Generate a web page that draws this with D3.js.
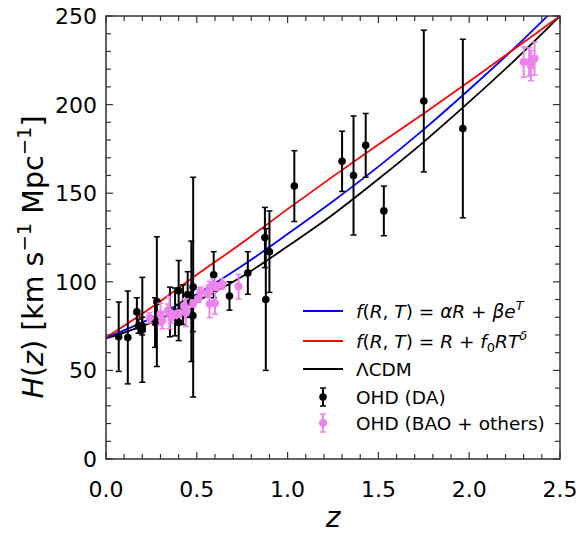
<!DOCTYPE html>
<html>
<head>
<meta charset="utf-8">
<script src="https://cdn.jsdelivr.net/npm/d3@7"></script>
<style>
  html, body { margin: 0; padding: 0; background: #fff; }
  svg { display: block; font-family: "DejaVu Sans", sans-serif; }
</style>
</head>
<body>
<svg id="chart" width="578" height="535"></svg>
<script>
// ---- data ----
const xTicks = [0.0, 0.5, 1.0, 1.5, 2.0, 2.5];
const yTicks = [0, 50, 100, 150, 200, 250];

// model curves
const zModel = [0, 0.25, 0.5, 0.75, 1.0, 1.25, 1.5, 1.75, 2.0, 2.25, 2.5];
const hBlue  = [68.3, 79.5, 93, 109, 127, 145.5, 165, 186, 208.5, 232, 257];
const hRed   = [68.5, 85.5, 104, 122, 141, 159.5, 177.5, 195, 213, 231.5, 250];
const hLcdm  = [68, 77, 89, 103, 120, 138, 158, 179, 201.5, 225, 250];

// OHD (DA)
const zDA = [0.07, 0.12, 0.17, 0.179, 0.199, 0.2, 0.27, 0.28, 0.352, 0.3802, 0.4, 0.4004, 0.4247, 0.4497, 0.47, 0.4783, 0.48, 0.593, 0.68, 0.781, 0.875, 0.88, 0.9, 1.037, 1.3, 1.363, 1.43, 1.53, 1.75, 1.965];
const hDA = [69, 68.6, 83, 75, 75, 72.9, 77, 88.8, 83, 83, 95, 77, 87.1, 92.8, 89, 80.9, 97, 104, 92, 105, 125, 90, 117, 154, 168, 160, 177, 140, 202, 186.5];
const eDA = [19.6, 26.2, 8, 4, 5, 29.6, 14, 36.6, 14, 13.5, 17, 10.2, 11.2, 12.9, 34, 9, 62, 13, 8, 12, 17, 40, 23, 20, 17, 33.6, 18, 14, 40, 50.4];

// OHD (BAO + others)
const zBAO = [0.24, 0.30, 0.31, 0.34, 0.35, 0.36, 0.38, 0.40, 0.43, 0.44, 0.44, 0.48, 0.51, 0.52, 0.56, 0.57, 0.57, 0.59, 0.60, 0.61, 0.64, 0.73, 2.30, 2.33, 2.34, 2.36];
const hBAO = [79.69, 81.7, 78.17, 83.8, 82.7, 79.93, 81.5, 82.04, 86.45, 82.6, 84.81, 87.79, 90.4, 94.35, 93.34, 87.6, 96.8, 98.48, 87.9, 97.3, 98.82, 97.3, 224, 224, 222, 226];
const eBAO = [2.99, 6.22, 4.74, 3.66, 9.1, 3.39, 1.9, 2.03, 3.97, 7.8, 1.83, 2.03, 1.9, 2.64, 2.3, 7.8, 3.4, 3.18, 6.1, 2.1, 2.98, 7.0, 8.6, 8, 8.5, 9.3];

// ---- layout ----
const L = 106, T = 16, W = 454, H = 443;
const svg = d3.select("#chart");
const x = d3.scaleLinear().domain([0, 2.5]).range([L, L + W]);
const y = d3.scaleLinear().domain([0, 250]).range([T + H, T]);

svg.append("defs").append("clipPath").attr("id", "clip")
  .append("rect").attr("x", L).attr("y", T).attr("width", W).attr("height", H);

// ---- curves ----
const line = d3.line().x(d => x(d[0])).y(d => y(d[1])).curve(d3.curveMonotoneX);
const curves = [
  { h: hLcdm, c: "#000000" },
  { h: hBlue, c: "#0000ff" },
  { h: hRed,  c: "#ff0000" }
];
const cg = svg.append("g").attr("clip-path", "url(#clip)");
curves.forEach(cv => {
  cg.append("path").datum(zModel.map((z, i) => [z, cv.h[i]]))
    .attr("d", line).attr("fill", "none").attr("stroke", cv.c).attr("stroke-width", 1.8);
});

// ---- error bars ----
function errorbars(zs, hs, es, color, r) {
  const g = svg.append("g").attr("clip-path", "url(#clip)");
  const data = zs.map((z, i) => ({ z, h: hs[i], e: es[i] }));
  const cap = 3;
  g.selectAll("line.v").data(data).join("line")
    .attr("x1", d => x(d.z)).attr("x2", d => x(d.z))
    .attr("y1", d => y(d.h - d.e)).attr("y2", d => y(d.h + d.e))
    .attr("stroke", color).attr("stroke-width", 2);
  [-1, 1].forEach(s => {
    g.selectAll(null).data(data).join("line")
      .attr("x1", d => x(d.z) - cap).attr("x2", d => x(d.z) + cap)
      .attr("y1", d => y(d.h + s * d.e)).attr("y2", d => y(d.h + s * d.e))
      .attr("stroke", color).attr("stroke-width", 1.5);
  });
  g.selectAll("circle").data(data).join("circle")
    .attr("cx", d => x(d.z)).attr("cy", d => y(d.h)).attr("r", r).attr("fill", color);
}
errorbars(zDA, hDA, eDA, "#000000", 3.8);
errorbars(zBAO, hBAO, eBAO, "#ee82ee", 4);

// ---- axes frame & ticks ----
const frameColor = "#333";
svg.append("rect").attr("x", L).attr("y", T).attr("width", W).attr("height", H)
  .attr("fill", "none").attr("stroke", frameColor).attr("stroke-width", 1.5);

const xMinor = d3.range(0, 26).map(i => i / 10);
const yMinor = d3.range(0, 26).map(i => i * 10);
const tk = svg.append("g").attr("stroke", frameColor).attr("stroke-width", 1.2);
xMinor.forEach(v => {
  const major = Math.abs(v * 2 - Math.round(v * 2)) < 1e-9;
  const len = major ? 7 : 5;
  tk.append("line").attr("x1", x(v)).attr("x2", x(v)).attr("y1", T + H).attr("y2", T + H - len);
  tk.append("line").attr("x1", x(v)).attr("x2", x(v)).attr("y1", T).attr("y2", T + len);
});
yMinor.forEach(v => {
  const major = v % 50 === 0;
  const len = major ? 7 : 5;
  tk.append("line").attr("x1", L).attr("x2", L + len).attr("y1", y(v)).attr("y2", y(v));
  tk.append("line").attr("x1", L + W).attr("x2", L + W - len).attr("y1", y(v)).attr("y2", y(v));
});

// tick labels
const fmtX = d3.format(".1f");
svg.append("g").selectAll("text").data(xTicks).join("text")
  .attr("x", d => x(d)).attr("y", T + H + 38)
  .attr("text-anchor", "middle").attr("font-size", 22).attr("fill", "#000")
  .text(d => fmtX(d));
svg.append("g").selectAll("text").data(yTicks).join("text")
  .attr("x", L - 9).attr("y", d => y(d)).attr("dy", "0.36em")
  .attr("text-anchor", "end").attr("font-size", 22).attr("fill", "#000")
  .text(d => d);

// axis labels
svg.append("text").attr("x", x(1.25)).attr("y", 527)
  .attr("text-anchor", "middle").attr("font-size", 28).attr("font-style", "italic")
  .text("z");

const yl = svg.append("text")
  .attr("transform", `translate(43, 257) rotate(-90)`)
  .attr("text-anchor", "middle").attr("font-size", 28.5);
yl.append("tspan").attr("font-style", "italic").text("H");
yl.append("tspan").text("(");
yl.append("tspan").attr("font-style", "italic").text("z");
yl.append("tspan").text(") [km s");
yl.append("tspan").attr("font-size", 19.5).attr("dy", -12).text("\u22121");
yl.append("tspan").attr("dy", 12).text(" Mpc");
yl.append("tspan").attr("font-size", 19.5).attr("dy", -12).text("\u22121");
yl.append("tspan").attr("dy", 12).text("]");

// ---- legend ----
const lx1 = 303, lx2 = 343, tx = 356, fs = 18.5;
const rows = [311, 341, 369, 397, 423];
const leg = svg.append("g");
function mathText(yy, parts) {
  const t = leg.append("text").attr("x", tx).attr("y", yy + 6.5).attr("font-size", fs);
  parts.forEach(p => {
    const s = t.append("tspan").text(p.t);
    if (p.i) s.attr("font-style", "italic");
    if (p.sup) s.attr("font-size", 13).attr("dy", -8);
    if (p.sub) s.attr("font-size", 13).attr("dy", 4);
    if (p.back) s.attr("dy", p.back);
  });
}
leg.append("line").attr("x1", lx1).attr("x2", lx2).attr("y1", rows[0]).attr("y2", rows[0])
  .attr("stroke", "#0000ff").attr("stroke-width", 1.8);
mathText(rows[0], [
  { t: "f", i: 1 }, { t: "(" }, { t: "R", i: 1 }, { t: ", " }, { t: "T", i: 1 }, { t: ") = " },
  { t: "\u03b1R", i: 1 }, { t: " + " }, { t: "\u03b2e", i: 1 }, { t: "T", i: 1, sup: 1 }
]);
leg.append("line").attr("x1", lx1).attr("x2", lx2).attr("y1", rows[1]).attr("y2", rows[1])
  .attr("stroke", "#ff0000").attr("stroke-width", 1.8);
mathText(rows[1], [
  { t: "f", i: 1 }, { t: "(" }, { t: "R", i: 1 }, { t: ", " }, { t: "T", i: 1 }, { t: ") = " },
  { t: "R", i: 1 }, { t: " + " }, { t: "f", i: 1 }, { t: "0", sub: 1 }, { t: "RT", i: 1, back: -4 },
  { t: "\u03b4", i: 1, sup: 1 }
]);
leg.append("line").attr("x1", lx1).attr("x2", lx2).attr("y1", rows[2]).attr("y2", rows[2])
  .attr("stroke", "#000").attr("stroke-width", 1.8);
leg.append("text").attr("x", tx).attr("y", rows[2] + 6.5).attr("font-size", fs).text("\u039bCDM");

function legErr(yy, color, r) {
  const cx = (lx1 + lx2) / 2;
  leg.append("line").attr("x1", cx).attr("x2", cx).attr("y1", yy - 9).attr("y2", yy + 9)
    .attr("stroke", color).attr("stroke-width", 2);
  [-9, 9].forEach(o => leg.append("line").attr("x1", cx - 3).attr("x2", cx + 3)
    .attr("y1", yy + o).attr("y2", yy + o).attr("stroke", color).attr("stroke-width", 1.5));
  leg.append("circle").attr("cx", cx).attr("cy", yy).attr("r", r).attr("fill", color);
}
legErr(rows[3], "#000", 3.8);
leg.append("text").attr("x", tx).attr("y", rows[3] + 6.5).attr("font-size", fs).text("OHD (DA)");
legErr(rows[4], "#ee82ee", 4);
leg.append("text").attr("x", tx).attr("y", rows[4] + 6.5).attr("font-size", fs).text("OHD (BAO + others)");
</script>
</body>
</html>
